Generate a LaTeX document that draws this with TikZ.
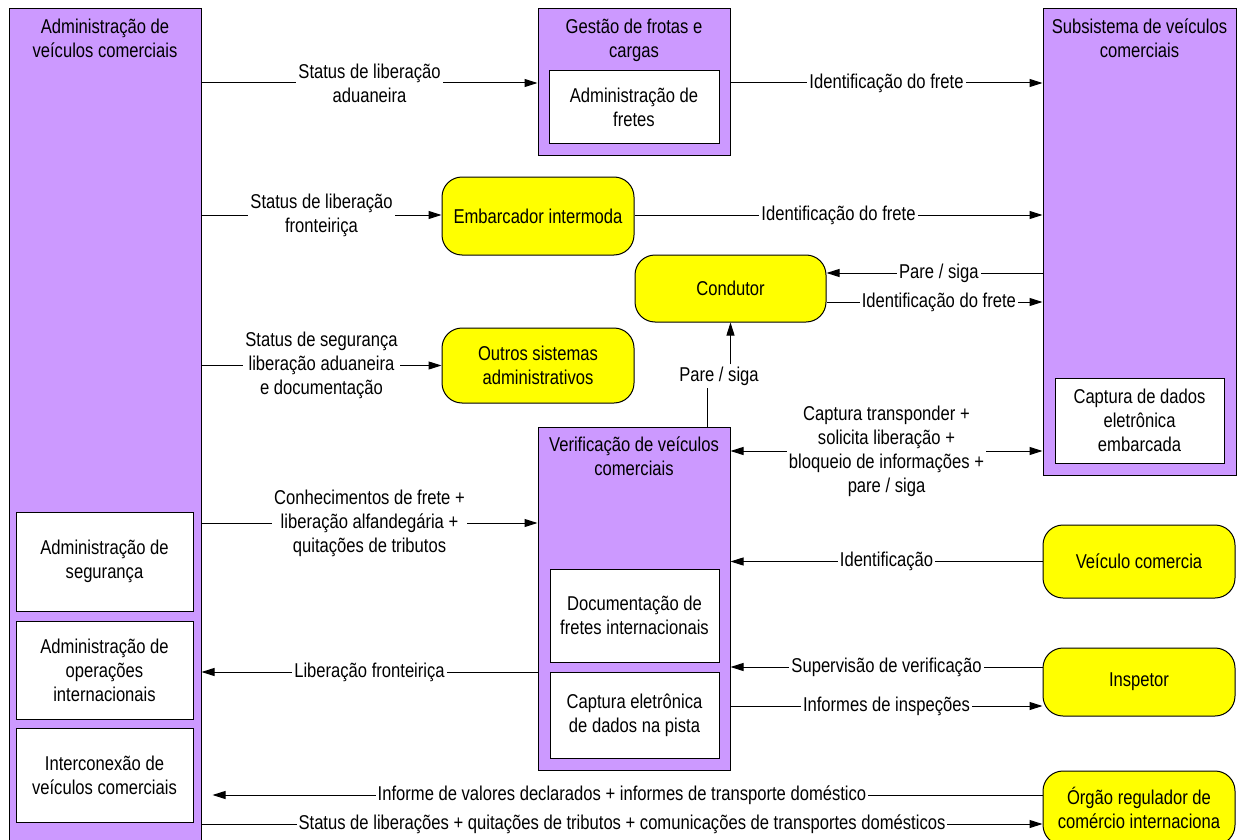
\documentclass[tikz,border=0pt]{standalone}
\usepackage{fontspec}
\setmainfont{Liberation Sans}[FakeStretch=0.83]
\usetikzlibrary{positioning,arrows.meta}
\definecolor{lila}{HTML}{CC99FF}
\definecolor{amarelo}{HTML}{FFFF00}
\begin{document}
\begin{tikzpicture}[x=1pt,y=-1pt,
    font=\fontsize{20}{24}\selectfont,
    sis/.style={draw=black,fill=lila,line width=1pt,inner sep=0},
    sub/.style={draw=black,fill=white,line width=1pt,align=center,inner sep=0},
    ext/.style={draw=black,fill=amarelo,rounded corners=20pt,line width=1pt,align=center,inner sep=0},
    ttl/.style={align=center,inner sep=0},
    lbl/.style={fill=white,align=center,inner sep=2pt},
    linha/.style={line width=1pt},
    flux/.style={linha,-{Triangle[length=13pt,width=8pt]}},
    flux2/.style={linha,{Triangle[length=13pt,width=8pt]}-{Triangle[length=13pt,width=8pt]}}]
  \useasboundingbox (0,0) rectangle (1237,840);
  \clip (0,0) rectangle (1237,840);

  %% subsistemas (lilas)
  \node[sis,minimum width=192pt,minimum height=836pt] (adm) at (105,427) {};
  \node[ttl,below=10pt of adm.north] {Administração de\\veículos comerciais};
  \node[sub,minimum width=177pt,minimum height=99pt] (seg) at (104.5,561.5) {Administração de\\segurança};
  \node[sub,minimum width=177pt,minimum height=98pt] (oper) at (104.5,670) {Administração de\\operações\\internacionais};
  \node[sub,minimum width=177pt,minimum height=94pt] (icv) at (104.5,775) {Interconexão de\\veículos comerciais};

  \node[sis,minimum width=192pt,minimum height=147pt] (gf) at (634,82.5) {};
  \node[ttl,below=10pt of gf.north] {Gestão de frotas e\\cargas};
  \node[sub,minimum width=170pt,minimum height=73pt] (afr) at (634,107.5) {Administração de\\fretes};

  \node[sis,minimum width=193pt,minimum height=466pt] (ssv) at (1139.5,242) {};
  \node[ttl,below=10pt of ssv.north] {Subsistema de veículos\\comerciais};
  \node[sub,minimum width=169pt,minimum height=85pt] (cde) at (1139.5,420.5) {Captura de dados\\eletrônica\\embarcada};

  \node[sis,minimum width=192pt,minimum height=343pt] (ver) at (634,598.5) {};
  \node[ttl,below=10pt of ver.north] {Verificação de veículos\\comerciais};
  \node[sub,minimum width=169pt,minimum height=93pt] (dfi) at (634.5,615.5) {Documentação de\\fretes internacionais};
  \node[sub,minimum width=169pt,minimum height=86pt] (cep) at (634.5,715) {Captura eletrônica\\de dados na pista};

  %% terminadores (amarelos)
  \node[ext,minimum width=192pt,minimum height=78pt] (emb) at (538,216) {Embarcador intermoda};
  \node[ext,minimum width=191pt,minimum height=67pt] (cond) at (730.5,288.5) {Condutor};
  \node[ext,minimum width=192pt,minimum height=75pt] (out) at (538,365.5) {Outros sistemas\\administrativos};
  \node[ext,minimum width=192pt,minimum height=73pt] (vc) at (1139,561.5) {Veículo comercia};
  \node[ext,minimum width=192pt,minimum height=68pt] (insp) at (1139,682) {Inspetor};
  \node[ext,minimum width=192pt,minimum height=74pt] (org) at (1139,808) {Órgão regulador de\\comércio internaciona};

  %% fluxos
  \draw[flux] (adm.east |- 0,83) -- node[lbl]{Status de liberação\\aduaneira} (gf.west |- 0,83);
  \draw[flux] (gf.east |- 0,83) -- node[lbl]{Identificação do frete} (ssv.west |- 0,83);
  \draw[flux] (adm.east |- 0,215) -- node[lbl]{Status de liberação\\fronteiriça} (emb.west |- 0,215);
  \draw[flux] (emb.east |- 0,215) -- node[lbl]{Identificação do frete} (ssv.west |- 0,215);
  \draw[flux] (ssv.west |- 0,273) -- node[lbl,pos=0.48]{Pare / siga} (cond.east |- 0,273);
  \draw[flux] (cond.east |- 0,302) -- node[lbl,pos=0.52]{Identificação do frete} (ssv.west |- 0,302);
  \draw[flux] (adm.east |- out) -- node[lbl]{Status de segurança\\liberação aduaneira\\e documentação} (out.west);

  \node[lbl] (ps) at (719,376) {Pare / siga};
  \draw[linha] (ver.north -| 707,0) -- (ps.south -| 707,0);
  \draw[flux] (ps.north -| cond.south) -- (cond.south);

  \draw[flux2] (ver.east |- 0,451) -- node[lbl]{Captura transponder +\\solicita liberação +\\bloqueio de informações +\\pare / siga} (ssv.west |- 0,451);
  \draw[flux] (adm.east |- 0,523) -- node[lbl]{Conhecimentos de frete +\\liberação alfandegária +\\quitações de tributos} (ver.west |- 0,523);
  \draw[flux] (vc.west) -- node[lbl]{Identificação} (ver.east |- vc);
  \draw[flux] (insp.west |- 0,667) -- node[lbl]{Supervisão de verificação} (ver.east |- 0,667);
  \draw[flux] (ver.east |- 0,706) -- node[lbl]{Informes de inspeções} (insp.west |- 0,706);
  \draw[flux] (ver.west |- 0,672) -- node[lbl]{Liberação fronteiriça} (adm.east |- 0,672);
  \draw[flux,shorten >=11pt] (org.west |- 0,795) -- node[lbl]{Informe de valores declarados + informes de transporte doméstico} (adm.east |- 0,795);
  \draw[flux] (adm.east |- 0,824) -- node[lbl]{Status de liberações + quitações de tributos + comunicações de transportes domésticos} (org.west |- 0,824);
\end{tikzpicture}
\end{document}
